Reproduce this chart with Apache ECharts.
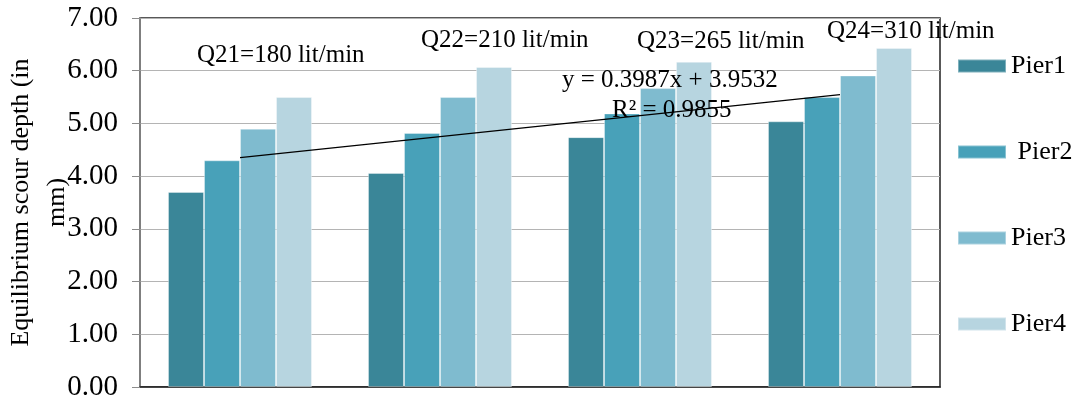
<!DOCTYPE html>
<html>
<head>
<meta charset="utf-8">
<script src="https://cdn.jsdelivr.net/npm/echarts@6/dist/echarts.min.js"></script>
<style>
  html, body { margin: 0; padding: 0; background: #fff; }
  #chart { width: 1082px; height: 401px; }
</style>
</head>
<body>
<div id="chart"></div>
<script>
// Flow-rate runs (one group of bars per run)
const categories = ['Q21', 'Q22', 'Q23', 'Q24'];
const flowLabels = ['Q21=180 lit/min', 'Q22=210 lit/min', 'Q23=265 lit/min', 'Q24=310 lit/min'];

// Equilibrium scour depth (mm) per pier
const pier1 = [3.70, 4.06, 4.74, 5.04];
const pier2 = [4.30, 4.82, 5.19, 5.50];
const pier3 = [4.90, 5.50, 5.67, 5.91];
const pier4 = [5.50, 6.07, 6.17, 6.43];

const seriesNames = ['Pier1', ' Pier2', 'Pier3', 'Pier4'];
const seriesValues = [pier1, pier2, pier3, pier4];
const seriesColors = ['#3a8698', '#48a1b9', '#7fbbcf', '#b7d5e0'];

// Linear trend line: y = 0.3987x + 3.9532 (x = run index 1..4)
const trendSlope = 0.3987;
const trendIntercept = 3.9532;
const trendR2 = 0.9855;
const trendValues = categories.map((c, i) => +(trendSlope * (i + 1) + trendIntercept).toFixed(4));

const yTicks = { min: 0, max: 7, interval: 1 };

const serif = '"Liberation Serif", "DejaVu Serif", serif';

const chart = echarts.init(document.getElementById('chart'), null, { renderer: 'canvas' });

const bars = seriesNames.map((name, i) => ({
  name: name,
  type: 'bar',
  data: seriesValues[i],
  barWidth: 36,
  barGap: '0%',
  itemStyle: { color: seriesColors[i], borderColor: 'rgba(255,255,255,0.35)', borderWidth: 1 },
  z: 2
}));

const textStyleBig = '25px ' + serif;

chart.setOption({
  animation: false,
  textStyle: { fontFamily: serif },
  grid: {
    left: 140, right: 142, top: 18, bottom: 14,
    containLabel: false,
    outerBoundsMode: 'none',
    show: true, borderColor: '#222', borderWidth: 1.5, backgroundColor: 'transparent'
  },
  legend: {
    orient: 'vertical',
    left: 957,
    top: 53,
    padding: 0,
    itemWidth: 48,
    itemHeight: 13,
    itemGap: 60,
    icon: 'rect',
    data: seriesNames,
    textStyle: { fontFamily: 'Liberation Serif', fontSize: 26, color: '#000' }
  },
  xAxis: {
    type: 'category',
    data: categories,
    axisLine: { show: true, lineStyle: { color: '#222', width: 1.5 } },
    axisTick: { show: false },
    axisLabel: { show: false }
  },
  yAxis: {
    type: 'value',
    min: yTicks.min, max: yTicks.max, interval: yTicks.interval,
    name: 'Equilibrium scour depth (in\nmm)',
    nameLocation: 'middle',
    nameRotate: 90,
    nameGap: 65,
    nameMoveOverlap: false,
    nameTextStyle: { fontFamily: serif, fontSize: 26, color: '#000', lineHeight: 36 },
    axisLine: { show: true, lineStyle: { color: '#8c8c8c', width: 1.5 } },
    axisTick: { show: true, length: 8, lineStyle: { color: '#8c8c8c' } },
    axisLabel: {
      margin: 22,
      fontFamily: serif, fontSize: 29, color: '#000',
      formatter: v => v.toFixed(2)
    },
    splitLine: { show: true, lineStyle: { color: '#b4b4b4', width: 1.2 } }
  },
  series: bars.concat([{
    name: 'Trend',
    type: 'line',
    data: trendValues,
    symbol: 'none',
    lineStyle: { color: '#000', width: 1.2 },
    z: 5
  }]),
  graphic: [
    { type: 'text', z: 100, left: 197, top: 43, style: { text: flowLabels[0], font: textStyleBig, fill: '#000' } },
    { type: 'text', z: 100, left: 421, top: 28, style: { text: flowLabels[1], font: textStyleBig, fill: '#000' } },
    { type: 'text', z: 100, left: 637, top: 29, style: { text: flowLabels[2], font: textStyleBig, fill: '#000' } },
    { type: 'text', z: 100, left: 827, top: 19, style: { text: flowLabels[3], font: textStyleBig, fill: '#000' } },
    { type: 'text', z: 100, left: 562, top: 68, style: { text: 'y = ' + trendSlope + 'x + ' + trendIntercept, font: textStyleBig, fill: '#000' } },
    { type: 'text', z: 100, left: 612, top: 98, style: { text: 'R² = ' + trendR2, font: textStyleBig, fill: '#000' } }
  ]
});
</script>
</body>
</html>
